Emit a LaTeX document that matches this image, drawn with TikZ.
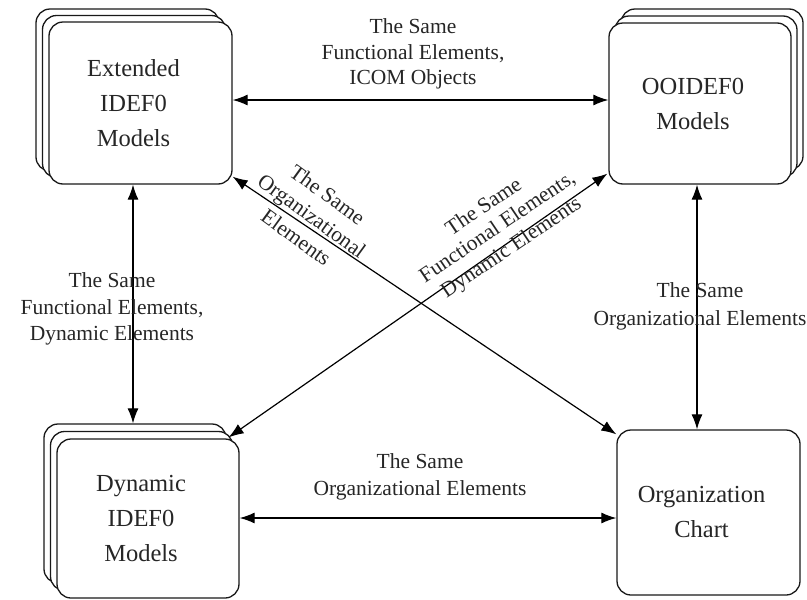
\documentclass[tikz,border=0pt]{standalone}
\usepackage{fontspec}
\setmainfont{Liberation Serif}
\usetikzlibrary{arrows.meta,calc}
\newcommand{\ls}{\kern14pt}
\begin{document}
\begin{tikzpicture}[x=1pt,y=-1pt,
  box/.style={draw=black!90, line width=1.3pt, rounded corners=14pt, fill=white, align=center,
    font=\fontsize{24.5}{35}\selectfont, text=black!85, inner sep=0pt},
  lbl/.style={align=center, font=\fontsize{21.5}{26.5}\selectfont, text=black!85, inner sep=0pt},
  arr/.style={{Latex[length=15pt,width=11pt]}-{Latex[length=15pt,width=11pt]}, line width=1.2pt, draw=black}]
\useasboundingbox (0,0) rectangle (807,600);

% Extended IDEF0 Models (stack)
\node[box, minimum width=183pt, minimum height=162pt] (extC) at (127.5,90) {};
\node[box, minimum width=183pt, minimum height=162pt] (extB) at (134,96.5) {};
\node[box, minimum width=183pt, minimum height=162pt] (ext) at (140.5,103) {Extended\ls\\IDEF0\ls\\Models\ls};

% OOIDEF0 Models (stack)
\node[box, minimum width=182pt, minimum height=161pt] (ooiC) at (712,89.5) {};
\node[box, minimum width=182pt, minimum height=161pt] (ooiB) at (706,96.5) {};
\node[box, minimum width=182pt, minimum height=161pt] (ooi) at (700,103.5) {OOIDEF0\ls\\Models\ls};

% Dynamic IDEF0 Models (stack)
\node[box, minimum width=182pt, minimum height=159pt] (dynC) at (135,503.5) {};
\node[box, minimum width=182pt, minimum height=159pt] (dynB) at (141.5,511) {};
\node[box, minimum width=182pt, minimum height=159pt] (dyn) at (148,518.5) {Dynamic\ls\\IDEF0\ls\\Models\ls};

% Organization Chart
\node[box, minimum width=183pt, minimum height=165pt] (org) at (708.5,512.5) {Organization\ls\\Chart\ls};

% connectors
\draw[arr] ($(ext.east)+(0,-3)$) coordinate (t1) -- (t1 -| ooi.west);
\draw[arr] ($(ext.south)+(-7.5,0)$) coordinate (l1) -- (l1 |- dynC.north);
\draw[arr] ($(ooi.south)+(-3,0)$) coordinate (r1) -- (r1 |- org.north);
\draw[arr] ($(dyn.east)+(0,-0.5)$) coordinate (b1) -- (b1 -| org.west);
\draw[arr] ($(ext.south east)+(0,-8)$) -- ($(org.north west)+(0,5)$);
\draw[arr] ($(ooi.south west)+(-1,-11)$) -- ($(dyn.north east)+(-11,-1)$);

% labels
\node[lbl, font=\fontsize{21.5}{25.5}\selectfont] (lt) at (413,54) {The Same\\Functional Elements,\\ICOM Objects};
\node[lbl] (ll) at (112,309) {The Same\\Functional Elements,\\Dynamic Elements};
\node[lbl, font=\fontsize{21.5}{28}\selectfont] (lr) at (700,306) {The Same\\Organizational Elements};
\node[lbl] (lb) at (420,477) {The Same\\Organizational Elements};
\node[lbl, rotate=-36] (ld1) at (312,216) {The Same\\Organizational\\Elements};
\node[lbl, rotate=34, font=\fontsize{21.5}{24.5}\selectfont] (ld2) at (498,228) {The Same\\Functional Elements,\\Dynamic Elements};
\end{tikzpicture}
\end{document}
